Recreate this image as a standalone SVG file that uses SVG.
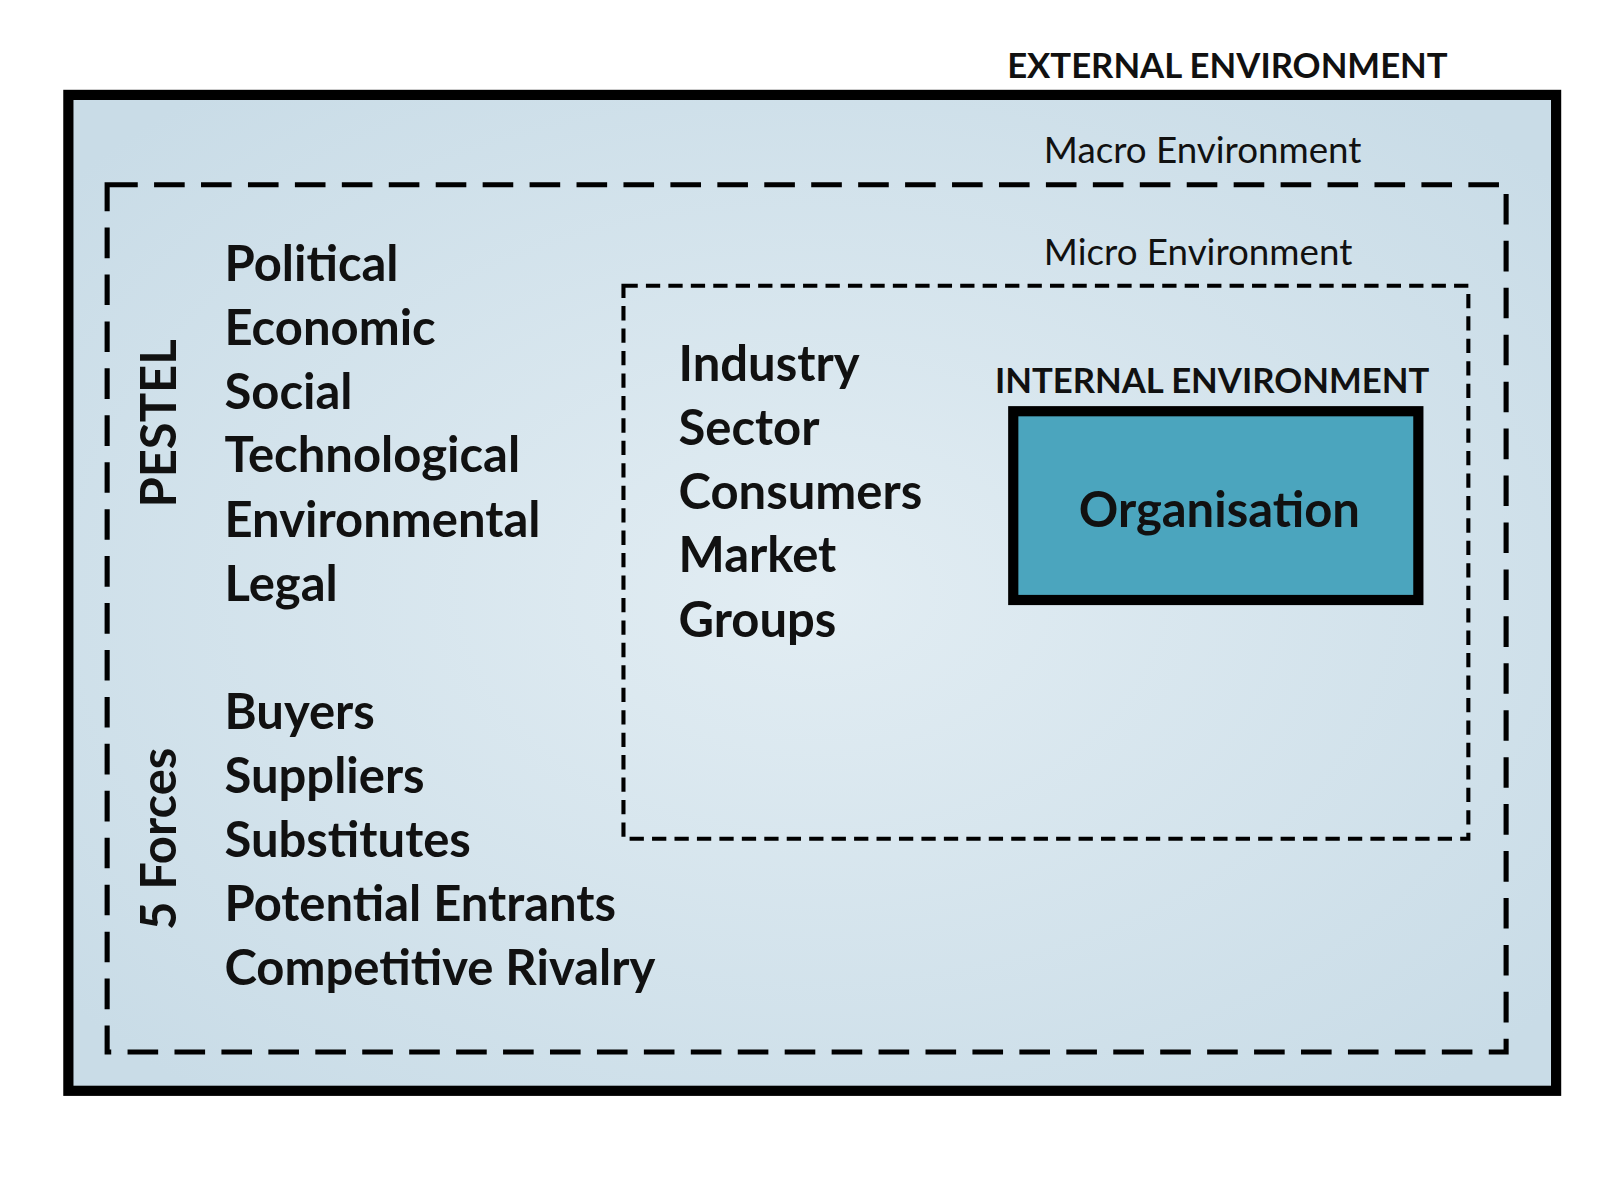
<svg xmlns="http://www.w3.org/2000/svg" width="1600" height="1200" viewBox="0 0 1600 1200">
<defs>
<radialGradient id="bg" cx="50%" cy="50%" r="65%">
<stop offset="0" stop-color="#e2edf3"/><stop offset="1" stop-color="#c9dce7"/>
</radialGradient>
<style>
.t{font-family:Lato,"Open Sans",sans-serif;font-weight:bold;font-size:48px;fill:#111}
.h{font-family:Lato,"Open Sans",sans-serif;font-weight:bold;font-size:34px;fill:#111}
.r{font-family:Lato,"Open Sans",sans-serif;font-size:36px;fill:#111}
</style>
</defs>
<rect width="1600" height="1200" fill="#fff"/>
<g transform="scale(1.0204)">
<g id="external">
<rect x="67" y="93" width="1458" height="976" fill="url(#bg)" stroke="#000" stroke-width="10"/>
<text class="h" x="987" y="76">EXTERNAL ENVIRONMENT</text>
</g>
<g id="macro">
<rect x="105" y="181" width="1371" height="850" fill="none" stroke="#000" stroke-width="5" stroke-dasharray="30 16"/>
<text class="r" x="1023" y="160">Macro Environment</text>
<text class="t" transform="translate(172 415) rotate(-90)" text-anchor="middle">PESTEL</text>
<text class="t" transform="translate(172 822) rotate(-90)" text-anchor="middle">5 Forces</text>
<text class="t" x="220" y="275">Political</text>
<text class="t" x="220" y="338">Economic</text>
<text class="t" x="220" y="401">Social</text>
<text class="t" x="220" y="463">Technological</text>
<text class="t" x="220" y="526">Environmental</text>
<text class="t" x="220" y="589">Legal</text>
<text class="t" x="220" y="714">Buyers</text>
<text class="t" x="220" y="777">Suppliers</text>
<text class="t" x="220" y="840">Substitutes</text>
<text class="t" x="220" y="903">Potential Entrants</text>
<text class="t" x="220" y="965">Competitive Rivalry</text>
</g>
<g id="micro">
<rect x="611" y="280" width="828" height="542" fill="none" stroke="#000" stroke-width="4" stroke-dasharray="14 8"/>
<text class="r" x="1023" y="260">Micro Environment</text>
<text class="t" x="665" y="373">Industry</text>
<text class="t" x="665" y="436">Sector</text>
<text class="t" x="665" y="499">Consumers</text>
<text class="t" x="665" y="561">Market</text>
<text class="t" x="665" y="624">Groups</text>
</g>
<g id="internal">
<text class="h" x="975" y="385">INTERNAL ENVIRONMENT</text>
<rect x="993" y="403" width="397" height="185" fill="#4ba5be" stroke="#000" stroke-width="10"/>
<text class="t" x="1195" y="516" text-anchor="middle">Organisation</text>
</g>
</g>
</svg>
